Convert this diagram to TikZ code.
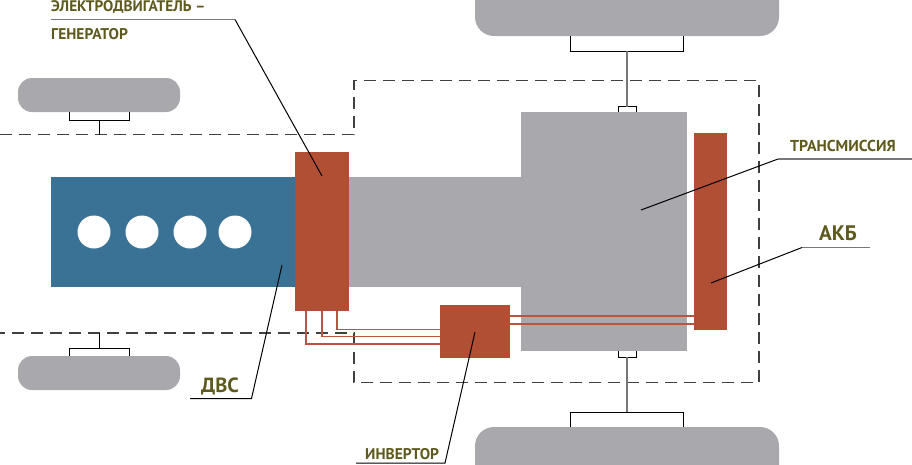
\documentclass[tikz,border=0pt]{standalone}
\usepackage{fontspec}
\setmainfont{PT Sans}
\definecolor{grayc}{HTML}{A9A8AD}
\definecolor{bluec}{HTML}{3A7295}
\definecolor{redc}{HTML}{B14F34}
\definecolor{wirec}{HTML}{BC5540}
\definecolor{olivec}{HTML}{5E5A1E}
\definecolor{leadc}{HTML}{77767B}
\tikzset{
  block/.style={inner sep=0pt,outer sep=0pt,minimum width=#1},
  grayblock/.style={block=#1,fill=grayc},
  redblock/.style={block=#1,fill=redc},
  wheelbig/.style={grayblock=304pt,rounded corners=19pt,minimum height=70pt},
  wheelsmall/.style={grayblock=162pt,rounded corners=14pt,minimum height=34pt},
  hole/.style={circle,fill=white,inner sep=0pt,minimum size=33pt},
  bracket/.style={draw=black,line width=1pt},
  stem/.style={draw=leadc,line width=1.4pt},
  dashline/.style={draw=black!75,line width=1.3pt,dash pattern=on 12pt off 7pt},
  wire/.style={draw=wirec,line width=1.8pt},
  leader/.style={draw=black,line width=1pt},
  shelf/.style={draw=leadc,line width=1.5pt},
  labeltext/.style={inner sep=0pt,text=olivec,anchor=base west,font=\fontsize{#1}{#1}\selectfont\bfseries},
}
\begin{document}
\begin{tikzpicture}[x=1pt,y=-1pt]
\useasboundingbox (0,0) rectangle (912,464);
\clip (0,0) rectangle (912,464);
% wheels
\node[wheelbig] (wheelT) at (627,1) {};
\node[wheelbig] (wheelB) at (627,462) {};
\node[wheelsmall] (wheelL1) at (99,95) {};
\node[wheelsmall] (wheelL2) at (99,373) {};
% main bodies
\node[grayblock=172pt,minimum height=110pt] (shaft) at (435,232) {};
\node[grayblock=166pt,minimum height=239pt] (trans) at (604,231.5) {};
\node[block=244pt,fill=bluec,minimum height=110pt] (engine) at (173,232) {};
\node[redblock=54pt,minimum height=159pt] (motor) at (322,231.5) {};
\node[redblock=70pt,minimum height=53pt] (inv) at (475,331.5) {};
\node[redblock=33pt,minimum height=197pt] (batt) at (710.5,231.5) {};
\node[hole] (c1) at (94,232) {};
\node[hole] (c2) at (142,232) {};
\node[hole] (c3) at (190,232) {};
\node[hole] (c4) at (235,232) {};
% named points
\coordinate (d1) at (0,134.5);
\coordinate (d2) at (354,134.5);
\coordinate (d3) at (354,80.5);
\coordinate (d4) at (759,80.5);
\coordinate (d5) at (759,382.5);
\coordinate (d6) at (354,382.5);
\coordinate (d7) at (354,333);
\coordinate (d8) at (0,333);
% dashed outline
\draw[dashline] (d1) -- (d2) -- (d3) -- (d4) -- (d5) -- (d6) -- (d7) -- (d8);
% axle brackets: right
\draw[bracket] (570.5,36) -- (570.5,51) -- (683.5,51) -- (683.5,36);
\draw[bracket] (570.5,427) -- (570.5,412) -- (683.5,412) -- (683.5,427);
\draw[bracket] (618,112) -- (618,106.5) -- (636,106.5) -- (636,112);
\draw[bracket] (618,351) -- (618,357) -- (636,357) -- (636,351);
\draw[stem] (627,51) -- (627,106.5);
\draw[stem] (627,357) -- (627,412);
% axle brackets: left
\draw[bracket] (69.5,112) -- (69.5,120) -- (129.5,120) -- (129.5,112);
\draw[bracket] (99.5,120) -- (99.5,134.5);
\draw[bracket] (69.5,356) -- (69.5,348.5) -- (129.5,348.5) -- (129.5,356);
\draw[bracket] (99.5,348.5) -- (99.5,333);
% wires
\draw[wire] (306,311) -- (306,344) -- (440,344);
\draw[wire] (322,311) -- (322,336.5) -- (440,336.5);
\draw[wire] (337,311) -- (337,329.5) -- (440,329.5);
\draw[wire] (510,316) -- (694,316);
\draw[wire] (510,324) -- (694,324);
% leaders
\coordinate (l1a) at (51,19.5);
\coordinate (l1b) at (235,19.5);
\coordinate (l1c) at (322,176);
\draw[shelf] (l1a) -- (l1b);
\draw[leader] (l1b) -- (l1c);
\coordinate (l2a) at (190,398.5);
\coordinate (l2b) at (251.5,398.5);
\coordinate (l2c) at (282,265);
\draw[leader] (l2a) -- (l2b) -- (l2c);
\coordinate (l3a) at (356,463);
\coordinate (l3b) at (445,463);
\coordinate (l3c) at (475,332);
\draw[leader] (l3a) -- (l3b) -- (l3c);
\coordinate (l4a) at (912,159);
\coordinate (l4b) at (778,159);
\coordinate (l4c) at (641,210);
\draw[shelf] (l4a) -- (l4b);
\draw[leader] (l4b) -- (l4c);
\coordinate (l5a) at (870,247.5);
\coordinate (l5b) at (802,247.5);
\coordinate (l5c) at (711,283);
\draw[shelf] (l5a) -- (l5b);
\draw[leader] (l5b) -- (l5c);
% labels
\node[labeltext=15.3] (t1) at (51,11.5) {ЭЛЕКТРОДВИГАТЕЛЬ –};
\node[labeltext=15.5] (t2) at (51,39.5) {ГЕНЕРАТОР};
\node[labeltext=20.5] (t3) at (201,392) {ДВС};
\node[labeltext=15.5] (t4) at (365,459) {ИНВЕРТОР};
\node[labeltext=15.8] (t5) at (790,151.5) {ТРАНСМИССИЯ};
\node[labeltext=21] (t6) at (819,240) {АКБ};
\end{tikzpicture}
\end{document}
